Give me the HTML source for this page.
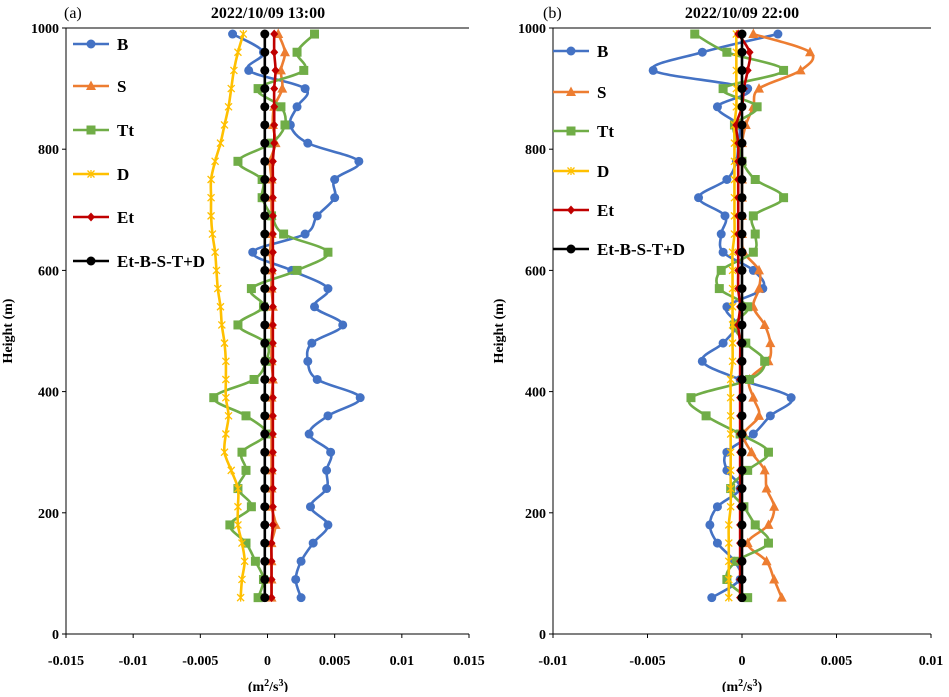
<!DOCTYPE html>
<html><head><meta charset="utf-8"><style>
body{margin:0;background:#fff;}
svg text{font-family:"Liberation Serif",serif;}
</style></head><body>
<svg id="c" width="949" height="692" xmlns="http://www.w3.org/2000/svg"></svg>
<script>
const heights=[990,960,930,900,870,840,810,780,750,720,690,660,630,600,570,540,510,480,450,420,390,360,330,300,270,240,210,180,150,120,90,60];
// panel a values (x1e-3 m2/s3)
const aB=[-2.6,-0.3,-1.4,2.8,2.2,1.7,3.0,6.8,5.0,5.0,3.7,2.8,-1.1,1.8,4.5,3.5,5.6,3.3,3.0,3.7,6.9,4.5,3.1,4.7,4.4,4.4,3.2,4.5,3.4,2.5,2.1,2.5];
const aS=[0.8,1.3,1.0,1.1,0.5,0.4,0.6,0.2,0.3,0.3,0.3,0.3,0.2,0.3,0.3,0.4,0.3,0.3,0.3,0.4,0.3,0.3,0.3,0.3,0.3,0.3,0.3,0.6,0.3,0.3,0.3,0.3];
const aT=[3.5,2.2,2.7,-0.7,1.0,1.3,0.3,-2.2,-0.4,-0.4,0.3,1.2,4.5,2.2,-1.2,-0.3,-2.2,-0.1,-0.1,-1.0,-4.0,-1.6,-0.1,-1.9,-1.6,-2.2,-1.2,-2.8,-1.6,-0.9,-0.3,-0.7];
const aD=[-1.8,-2.2,-2.5,-2.7,-2.9,-3.2,-3.5,-3.9,-4.2,-4.2,-4.2,-4.1,-3.9,-3.8,-3.7,-3.5,-3.4,-3.2,-3.1,-3.1,-3.1,-2.9,-3.1,-3.2,-2.7,-2.2,-2.2,-2.2,-1.9,-1.7,-1.9,-2.0];
const aE=[0.5,0.5,0.6,0.5,0.5,0.5,0.5,0.4,0.4,0.4,0.4,0.4,0.4,0.4,0.4,0.4,0.4,0.4,0.4,0.4,0.4,0.4,0.4,0.4,0.4,0.4,0.4,0.4,0.3,0.3,0.3,0.3];
const aR=[-0.2,-0.2,-0.2,-0.2,-0.2,-0.2,-0.2,-0.2,-0.2,-0.2,-0.2,-0.2,-0.2,-0.2,-0.2,-0.2,-0.2,-0.2,-0.2,-0.2,-0.2,-0.2,-0.2,-0.2,-0.2,-0.2,-0.2,-0.2,-0.2,-0.2,-0.2,-0.2];
// panel b values
const bB=[1.9,-2.1,-4.7,0.3,-1.3,-0.2,-0.2,-0.3,-0.8,-2.3,-0.9,-1.1,-1.0,0.6,1.1,-0.8,-0.3,-1.0,-2.1,-0.1,2.6,1.5,0.6,-0.8,-0.8,-0.1,-1.3,-1.7,-1.3,-0.4,-0.1,-1.6];
const bS=[0.6,3.6,3.1,0.9,0.6,0.2,0.0,0.0,0.0,0.0,0.0,0.0,0.1,0.9,0.9,0.6,1.2,1.5,1.4,0.4,0.6,0.9,0.1,0.5,1.2,1.3,1.7,1.4,0.3,1.3,1.7,2.1];
const bT=[-2.5,-0.8,2.2,-1.0,0.8,-0.4,-0.2,0.0,0.7,2.2,0.6,0.7,0.6,-1.1,-1.2,0.3,-0.4,0.2,1.2,0.4,-2.7,-1.9,-0.1,1.4,0.3,-0.6,0.1,0.7,1.4,-0.3,-0.8,0.3];
const bD=[-0.3,-0.3,-0.3,-0.3,-0.3,-0.4,-0.4,-0.4,-0.4,-0.4,-0.4,-0.4,-0.5,-0.5,-0.5,-0.5,-0.5,-0.5,-0.5,-0.6,-0.6,-0.6,-0.6,-0.6,-0.6,-0.6,-0.6,-0.7,-0.7,-0.7,-0.7,-0.7];
const bE=[-0.2,0.4,0.3,0.1,0.0,-0.3,-0.2,-0.2,-0.2,-0.2,-0.2,-0.2,-0.2,-0.2,-0.2,-0.1,-0.2,-0.1,-0.1,-0.1,-0.1,-0.1,-0.1,-0.1,-0.1,-0.1,-0.1,-0.1,-0.1,-0.1,-0.1,-0.1];
const bR=[0,0,0,0,0,0,0,0,0,0,0,0,0,0,0,0,0,0,0,0,0,0,0,0,0,0,0,0,0,0,0,0];
const yTicks=[0,200,400,600,800,1000];
const aXTicks=["-0.015","-0.01","-0.005","0","0.005","0.01","0.015"];
const bXTicks=["-0.01","-0.005","0","0.005","0.01"];
const names=["B","S","Tt","D","Et","Et-B-S-T+D"];
const colors=["#4472C4","#ED7D31","#70AD47","#FFC000","#C00000","#000000"];
const markers=["circle","tri","square","x","diamond","circle"];

const svg=document.getElementById('c');
const NS="http://www.w3.org/2000/svg";
function el(t,a,p){const e=document.createElementNS(NS,t);for(const k in a)e.setAttribute(k,a[k]);(p||svg).appendChild(e);return e;}
function txt(x,y,s,a,p){const e=el('text',Object.assign({x:x,y:y},a),p);e.textContent=s;return e;}
function marker(g,type,x,y,c){
  let m;
  if(type==="circle")m=el('circle',{cx:x,cy:y,r:4.5,fill:c},g);
  else if(type==="square")m=el('rect',{x:x-4.5,y:y-4.5,width:9,height:9,fill:c},g);
  else if(type==="tri")m=el('polygon',{points:`${x},${y-5.5} ${x+5},${y+4} ${x-5},${y+4}`,fill:c},g);
  else if(type==="diamond")m=el('polygon',{points:`${x},${y-4.5} ${x+4},${y} ${x},${y+4.5} ${x-4},${y}`,fill:c},g);
  else {m=el('path',{d:`M${x-3.5},${y-3.5}L${x+3.5},${y+3.5}M${x-3.5},${y+3.5}L${x+3.5},${y-3.5}M${x},${y-4}L${x},${y+4}`,stroke:c,'stroke-width':1.3},g);}
  
  
}
function panel(o){
  const L=o.left,R=o.right,T=28,B=634;
  const xs=v=>L+(v*1e-3-o.min)/(o.max-o.min)*(R-L);
  const ys=h=>B-(h/1000)*(B-T);
  const g=el('g',{});  
  el('line',{x1:L,y1:T,x2:R,y2:T,stroke:'#000','stroke-width':1},g);
  el('line',{x1:L,y1:T,x2:L,y2:B,stroke:'#000','stroke-width':1},g);
  el('line',{x1:L,y1:B,x2:R,y2:B,stroke:'#000','stroke-width':1},g);
  yTicks.forEach(t=>{const y=ys(t);el('line',{x1:L-4,y1:y,x2:L,y2:y,stroke:'#000'},g);
    const tx=txt(L-7,y+5,String(t),{'text-anchor':'end','font-size':14,'font-weight':'bold'},g);
    });
  o.xt.forEach(t=>{const x=L+(parseFloat(t)-o.min)/(o.max-o.min)*(R-L);el('line',{x1:x,y1:B,x2:x,y2:B+4,stroke:'#000'},g);
    const tx=txt(x,B+31,t,{'text-anchor':'middle','font-size':14,'font-weight':'bold'},g);
    });
  const xl=txt(o.cx,B+57,"(m",{'text-anchor':'middle','font-size':14,'font-weight':'bold'},g);
  xl.innerHTML='(m<tspan dy="-5" font-size="10">2</tspan><tspan dy="5">/s</tspan><tspan dy="-5" font-size="10">3</tspan><tspan dy="5">)</tspan>';
  
  const lab=txt(o.labx,18,o.lab,{'font-size':16},g);
  const ti=txt(o.cx,18,o.title,{'font-size':16,'font-weight':'bold','text-anchor':'middle'},g);
  o.series.forEach((s,i)=>{
    const sg=el('g',{},g);
    const pts=s.map((v,j)=>[xs(v),ys(heights[j])]);
    let d='M'+pts[0].join(',');
    for(let j=1;j<pts.length;j++){const p0=pts[Math.max(j-2,0)],p1=pts[j-1],p2=pts[j],p3=pts[Math.min(j+1,pts.length-1)];
      const k=0.17;d+=`C${p1[0]+(p2[0]-p0[0])*k},${p1[1]+(p2[1]-p0[1])*k} ${p2[0]-(p3[0]-p1[0])*k},${p2[1]-(p3[1]-p1[1])*k} ${p2[0]},${p2[1]}`;}
    const pa=el('path',{d:d,fill:'none',stroke:colors[i],'stroke-width':2.6},sg);
    
    pts.forEach(p=>marker(sg,markers[i],p[0],p[1],colors[i]));
  });
  names.forEach((n,i)=>{const y=o.legY[i];
    const lg=el('g',{},g);
    el('line',{x1:o.legX,y1:y,x2:o.legX+36,y2:y,stroke:colors[i],'stroke-width':2.6},lg);
    marker(lg,markers[i],o.legX+18,y,colors[i]);
    txt(o.legX+44,y+6,n,{'font-size':17,'font-weight':'bold'},lg);});
}
panel({id:'panel-a',left:66,right:469,min:-0.015,max:0.015,xt:aXTicks,cx:268,lab:'(a)',labx:64,title:'2022/10/09 13:00',
  series:[aB,aS,aT,aD,aE,aR],legX:73,legY:[44,86,130,174,217,261]});
panel({id:'panel-b',left:553,right:931,min:-0.01,max:0.01,xt:bXTicks,cx:742,lab:'(b)',labx:543,title:'2022/10/09 22:00',
  series:[bB,bS,bT,bD,bE,bR],legX:553,legY:[51,92,131,171,210,249]});
const yt=txt(0,0,'Height (m)',{'font-size':14,'font-weight':'bold','text-anchor':'middle',transform:'translate(12,331) rotate(-90)'});

const yt2=txt(0,0,'Height (m)',{'font-size':14,'font-weight':'bold','text-anchor':'middle',transform:'translate(503,331) rotate(-90)'});

</script>
</body></html>
